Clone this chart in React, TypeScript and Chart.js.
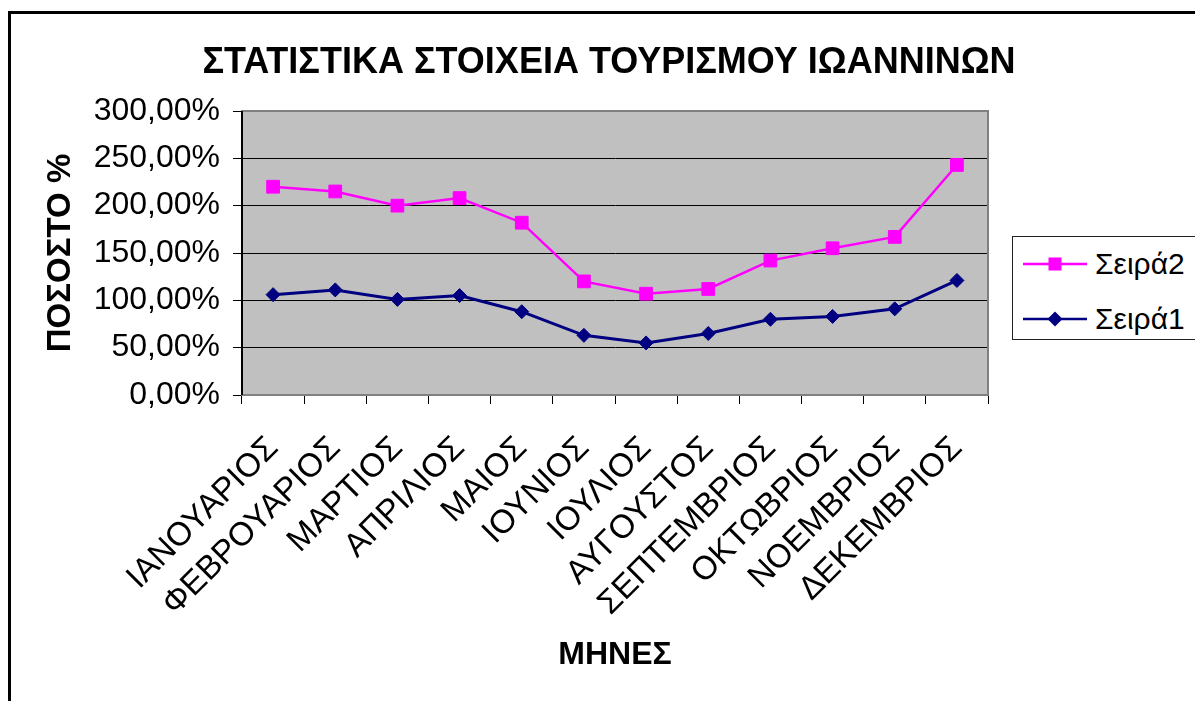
import React, { useEffect, useRef } from 'react';
import { Chart, registerables } from 'chart.js';

Chart.register(...registerables);

const months = [
  'ΙΑΝΟΥΑΡΙΟΣ',
  'ΦΕΒΡΟΥΑΡΙΟΣ',
  'ΜΑΡΤΙΟΣ',
  'ΑΠΡΙΛΙΟΣ',
  'ΜΑΙΟΣ',
  'ΙΟΥΝΙΟΣ',
  'ΙΟΥΛΙΟΣ',
  'ΑΥΓΟΥΣΤΟΣ',
  'ΣΕΠΤΕΜΒΡΙΟΣ',
  'ΟΚΤΩΒΡΙΟΣ',
  'ΝΟΕΜΒΡΙΟΣ',
  'ΔΕΚΕΜΒΡΙΟΣ',
];
const series2 = [220, 215, 200, 208, 182, 120, 107, 112, 142, 155, 167, 243];
const series1 = [106, 111, 101, 105, 88, 63, 55, 65, 80, 83, 91, 121];
const seriesNames = ['Σειρά2', 'Σειρά1'];
const titleText = 'ΣΤΑΤΙΣΤΙΚΑ ΣΤΟΙΧΕΙΑ ΤΟΥΡΙΣΜΟΥ ΙΩΑΝΝΙΝΩΝ';
const yTitle = 'ΠΟΣΟΣΤΟ %';
const xTitle = 'ΜΗΝΕΣ';

const FONT = '"Liberation Sans", Arial, sans-serif';
const MAGENTA = '#FF00FF';
const NAVY = '#000080';

const plotFrame = {
  id: 'plotFrame',
  beforeDraw(chart: any) {
    const { ctx, chartArea: a } = chart;
    ctx.save();
    ctx.fillStyle = '#C0C0C0';
    ctx.fillRect(a.left, a.top, a.right - a.left, a.bottom - a.top);
    ctx.restore();
  },
  beforeDatasetsDraw(chart: any) {
    const { ctx, chartArea: a } = chart;
    ctx.save();
    ctx.strokeStyle = '#808080';
    ctx.lineWidth = 2;
    ctx.strokeRect(a.left, a.top, a.right - a.left, a.bottom - a.top);
    ctx.strokeStyle = '#000000';
    ctx.lineWidth = 2;
    ctx.beginPath();
    ctx.moveTo(a.left, a.top);
    ctx.lineTo(a.left, a.bottom);
    ctx.stroke();
    ctx.restore();
  },
};

function LegendRow({ color, shape, label, top }: { color: string; shape: 'square' | 'diamond'; label: string; top: number }) {
  return (
    <div style={{ position: 'absolute', left: 0, top, height: 30, width: 300 }}>
      <svg width={66} height={30} style={{ position: 'absolute', left: 10, top: 0 }}>
        <line x1={0} y1={15} x2={64} y2={15} stroke={color} strokeWidth={2.5} />
        {shape === 'square' ? (
          <rect x={25.5} y={8.5} width={13} height={13} fill={color} />
        ) : (
          <polygon points="32,7.5 39.5,15 32,22.5 24.5,15" fill={color} />
        )}
      </svg>
      <div
        style={{
          position: 'absolute',
          left: 82,
          top: 0,
          fontFamily: FONT,
          fontSize: 30,
          lineHeight: '30px',
          color: '#000',
          whiteSpace: 'nowrap',
        }}
      >
        {label}
      </div>
    </div>
  );
}

export default function App() {
  const canvasRef = useRef<HTMLCanvasElement | null>(null);

  useEffect(() => {
    const canvas = canvasRef.current;
    if (!canvas) return;
    const chart = new Chart(canvas, {
      type: 'line',
      data: {
        labels: months,
        datasets: [
          {
            label: seriesNames[0],
            data: series2,
            borderColor: MAGENTA,
            backgroundColor: MAGENTA,
            borderWidth: 2.5,
            pointStyle: 'rect',
            pointRadius: 9,
            pointBorderWidth: 1,
            pointBackgroundColor: MAGENTA,
            pointBorderColor: MAGENTA,
            tension: 0,
          },
          {
            label: seriesNames[1],
            data: series1,
            borderColor: NAVY,
            backgroundColor: NAVY,
            borderWidth: 3,
            pointStyle: 'rectRot',
            pointRadius: 7,
            pointBorderWidth: 1,
            pointBackgroundColor: NAVY,
            pointBorderColor: NAVY,
            tension: 0,
          },
        ],
      },
      options: {
        animation: false,
        responsive: false,
        maintainAspectRatio: false,
        layout: { padding: { left: 41, top: 111, right: 207, bottom: 27 } },
        plugins: {
          legend: { display: false },
          title: { display: false },
          tooltip: { enabled: false },
        },
        scales: {
          x: {
            type: 'category',
            offset: true,
            afterFit: (scale: any) => {
              scale.height = 279;
            },
            grid: {
              display: true,
              offset: true,
              drawOnChartArea: false,
              drawTicks: true,
              tickLength: 9,
              tickColor: '#000000',
              tickWidth: 1,
            },
            border: { display: true, color: '#808080', width: 2 },
            ticks: {
              autoSkip: false,
              minRotation: 45,
              maxRotation: 45,
              padding: 25,
              labelOffset: 0,
              color: '#000000',
              font: { family: FONT, size: 33, lineHeight: 1.2 },
            },
            title: {
              display: true,
              text: xTitle,
              color: '#000000',
              padding: { top: 0, bottom: 0 },
              font: { family: FONT, size: 32, weight: 'bold', lineHeight: 1.2 },
            },
          },
          y: {
            min: 0,
            max: 300,
            afterFit: (scale: any) => {
              scale.width = 201;
            },
            grid: {
              color: '#000000',
              lineWidth: 1,
              drawTicks: true,
              tickLength: 9,
              tickColor: '#000000',
            },
            border: { display: true, color: '#000000', width: 2 },
            ticks: {
              stepSize: 50,
              padding: 13,
              color: '#000000',
              font: { family: FONT, size: 32, lineHeight: 1.2 },
              callback: (v: any) => Number(v).toFixed(2).replace('.', ',') + '%',
            },
            title: {
              display: true,
              text: yTitle,
              color: '#000000',
              padding: { top: 0, bottom: 0 },
              font: { family: FONT, size: 33, weight: 'bold', lineHeight: 1.2 },
            },
          },
        },
      },
      plugins: [plotFrame],
    });
    return () => chart.destroy();
  }, []);

  return (
    <div
      style={{
        position: 'absolute',
        left: 0,
        top: 0,
        width: 1195,
        height: 701,
        overflow: 'hidden',
        background: '#ffffff',
      }}
    >
      <div
        style={{
          position: 'absolute',
          left: 8,
          top: 11,
          width: 1400,
          height: 900,
          border: '3px solid #000',
          boxSizing: 'border-box',
        }}
      />
      <canvas
        ref={canvasRef}
        width={1195}
        height={701}
        style={{ position: 'absolute', left: 0, top: 0, width: 1195, height: 701, display: 'block' }}
      />
      <div
        style={{
          position: 'absolute',
          left: 0,
          top: 43,
          width: 1218,
          textAlign: 'center',
          fontFamily: FONT,
          fontWeight: 'bold',
          fontSize: 36,
          lineHeight: '36px',
          color: '#000',
          whiteSpace: 'nowrap',
        }}
      >
        {titleText}
      </div>
      <div
        style={{
          position: 'absolute',
          left: 1012,
          top: 236,
          width: 300,
          height: 104,
          border: '1.5px solid #222',
          boxSizing: 'border-box',
          background: '#fff',
        }}
      >
        <LegendRow color={MAGENTA} shape="square" label={seriesNames[0]} top={12} />
        <LegendRow color={NAVY} shape="diamond" label={seriesNames[1]} top={67} />
      </div>
    </div>
  );
}
